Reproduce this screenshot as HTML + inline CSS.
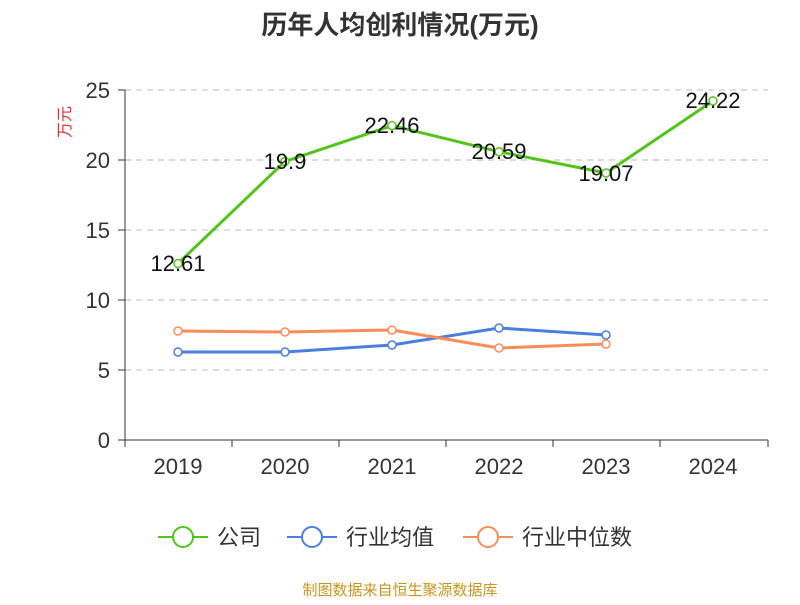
<!DOCTYPE html>
<html><head><meta charset="utf-8"><style>body{margin:0;background:#fff}</style></head><body>
<svg width="800" height="600" xmlns="http://www.w3.org/2000/svg" font-family="Liberation Sans, Noto Sans CJK SC, sans-serif">
<text x="400" y="34" text-anchor="middle" font-size="26" font-weight="bold" fill="#333">历年人均创利情况(万元)</text>
<text x="70" y="122" font-size="16" fill="#e03030" text-anchor="middle" transform="rotate(-90 70 122)">万元</text>
<g stroke="#bbb" stroke-dasharray="6,5">
<line x1="125" y1="90" x2="768" y2="90"/><line x1="125" y1="160" x2="768" y2="160"/><line x1="125" y1="230" x2="768" y2="230"/><line x1="125" y1="300" x2="768" y2="300"/><line x1="125" y1="370" x2="768" y2="370"/>
</g>
<g stroke="#333"><line x1="125" y1="90" x2="125" y2="440"/><line x1="125" y1="440" x2="768" y2="440"/>
<line x1="118" y1="90" x2="125" y2="90"/><line x1="118" y1="160" x2="125" y2="160"/><line x1="118" y1="230" x2="125" y2="230"/><line x1="118" y1="300" x2="125" y2="300"/><line x1="118" y1="370" x2="125" y2="370"/><line x1="118" y1="440" x2="125" y2="440"/>
<line x1="125" y1="440" x2="125" y2="447"/><line x1="232" y1="440" x2="232" y2="447"/><line x1="339" y1="440" x2="339" y2="447"/><line x1="446" y1="440" x2="446" y2="447"/><line x1="553" y1="440" x2="553" y2="447"/><line x1="660" y1="440" x2="660" y2="447"/><line x1="768" y1="440" x2="768" y2="447"/></g>
<g font-size="22" fill="#333" text-anchor="end"><text x="110" y="98">25</text><text x="110" y="168">20</text><text x="110" y="238">15</text><text x="110" y="308">10</text><text x="110" y="378">5</text><text x="110" y="448">0</text></g>
<g font-size="22" fill="#333" text-anchor="middle"><text x="178" y="474">2019</text><text x="285" y="474">2020</text><text x="392" y="474">2021</text><text x="499" y="474">2022</text><text x="606" y="474">2023</text><text x="713" y="474">2024</text></g>
<polyline fill="none" stroke="#52c41a" stroke-width="3" points="178,263.5 285,161.4 392,125.6 499,151.7 606,173 713,100.9"/>
<polyline fill="none" stroke="#4a7fe0" stroke-width="3" points="178,352 285,352 392,345 499,328 606,335"/>
<polyline fill="none" stroke="#fa8c5a" stroke-width="3" points="178,331 285,332 392,330 499,348 606,344"/>
<g fill="#fff" stroke-width="1.5">
<g stroke="#52c41a"><circle cx="178" cy="263.5" r="4"/><circle cx="285" cy="161.4" r="4"/><circle cx="392" cy="125.6" r="4"/><circle cx="499" cy="151.7" r="4"/><circle cx="606" cy="173" r="4"/><circle cx="713" cy="100.9" r="4"/></g>
<g stroke="#4a7fe0"><circle cx="178" cy="352" r="4"/><circle cx="285" cy="352" r="4"/><circle cx="392" cy="345" r="4"/><circle cx="499" cy="328" r="4"/><circle cx="606" cy="335" r="4"/></g>
<g stroke="#fa8c5a"><circle cx="178" cy="331" r="4"/><circle cx="285" cy="332" r="4"/><circle cx="392" cy="330" r="4"/><circle cx="499" cy="348" r="4"/><circle cx="606" cy="344" r="4"/></g>
</g>
<g font-size="22" fill="#111" text-anchor="middle"><text x="178" y="271">12.61</text><text x="285" y="169">19.9</text><text x="392" y="133">22.46</text><text x="499" y="159">20.59</text><text x="606" y="181">19.07</text><text x="713" y="108">24.22</text></g>
<g stroke-width="2" fill="#fff">
<line x1="158" y1="537" x2="208" y2="537" stroke="#52c41a"/><circle cx="183" cy="537" r="10" stroke="#52c41a"/>
<line x1="287" y1="537" x2="337" y2="537" stroke="#4a7fe0"/><circle cx="312" cy="537" r="10" stroke="#4a7fe0"/>
<line x1="463" y1="537" x2="513" y2="537" stroke="#fa8c5a"/><circle cx="488" cy="537" r="10" stroke="#fa8c5a"/>
</g>
<g font-size="22" fill="#333"><text x="217" y="545">公司</text><text x="346" y="545">行业均值</text><text x="522" y="545">行业中位数</text></g>
<text x="400" y="595" text-anchor="middle" font-size="15" fill="#c8961e">制图数据来自恒生聚源数据库</text>
</svg>
</body></html>
